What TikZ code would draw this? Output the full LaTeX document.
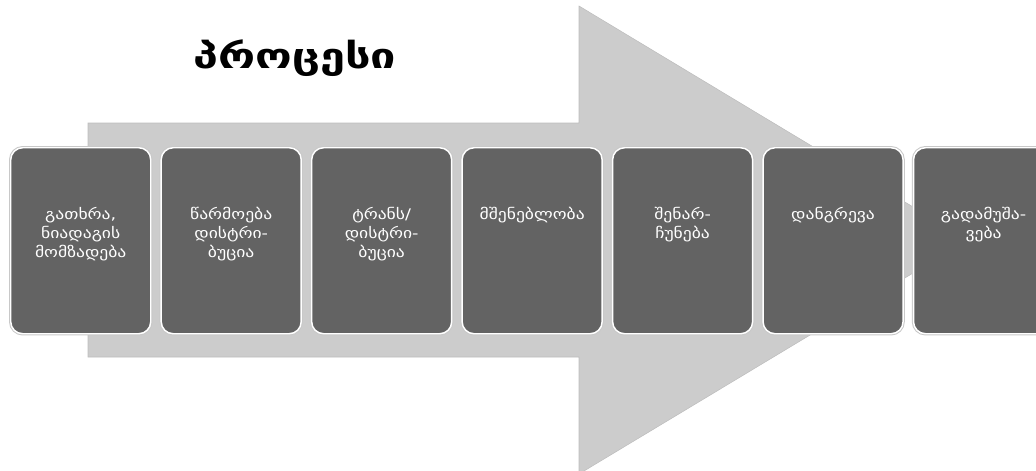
\documentclass[tikz,border=0pt]{standalone}
\usepackage{fontspec}
\setmainfont{DejaVu Sans}
\newfontfamily\widefont[FakeStretch=1.2]{DejaVu Sans}
\newfontfamily\titlefont[FakeStretch=1.3]{DejaVu Sans}
\usepackage{xcolor}
\usetikzlibrary{positioning}
\definecolor{shaft}{HTML}{CCCCCC}
\definecolor{shaftedge}{HTML}{BDBDBD}
\definecolor{stepfill}{HTML}{636363}
\definecolor{stepedge}{HTML}{C8C8C8}
\tikzset{
  stepbox/.style={rounded corners=9pt,fill=stepfill,draw=white,line width=1.1pt,
    preaction={draw=stepedge,line width=2.6pt},minimum width=105pt,minimum height=139.5pt,inner sep=0pt},
  steptext/.style={text=white,align=center,inner sep=0pt,font=\widefont\fontsize{11}{14.2}\selectfont},
  titletext/.style={font=\titlefont\fontsize{26}{30}\selectfont\bfseries,text=black}
}
\begin{document}
\begin{tikzpicture}[x=0.75pt,y=-0.75pt,node distance=6.75pt]
  \useasboundingbox (0,0) rectangle (1036,471);
  % big arrow behind the steps
  \fill[shaft,draw=shaftedge,line width=.4pt] (88,123) -- (579,123) -- (579,6) -- (968,240)
    -- (579,474) -- (579,357) -- (88,357) -- cycle;
  \node[titletext] (title) at (295,58) {პროცესი};
  % steps
  \node[stepbox,anchor=north west] (b1) at (10,147) {};
  \node[stepbox,right=of b1] (b2) {};
  \node[stepbox,right=of b2] (b3) {};
  \node[stepbox,right=of b3] (b4) {};
  \node[stepbox,right=of b4] (b5) {};
  \node[stepbox,right=of b5] (b6) {};
  \node[stepbox,right=of b6] (b7) {};
  \node[steptext,below=45pt of b1.north] (t1) {გათხრა,\\ნიადაგის\\მომზადება};
  \node[steptext,below=45pt of b2.north] (t2) {წარმოება\\დისტრი-\\ბუცია};
  \node[steptext,below=45pt of b3.north] (t3) {ტრანს/\\დისტრი-\\ბუცია};
  \node[steptext,below=45pt of b4.north] (t4) {მშენებლობა};
  \node[steptext,below=45pt of b5.north] (t5) {შენარ-\\ჩუნება};
  \node[steptext,below=45pt of b6.north] (t6) {დანგრევა};
  \node[steptext,below=45pt of b7.north] (t7) {გადამუშა-\\ვება};
\end{tikzpicture}
\end{document}
